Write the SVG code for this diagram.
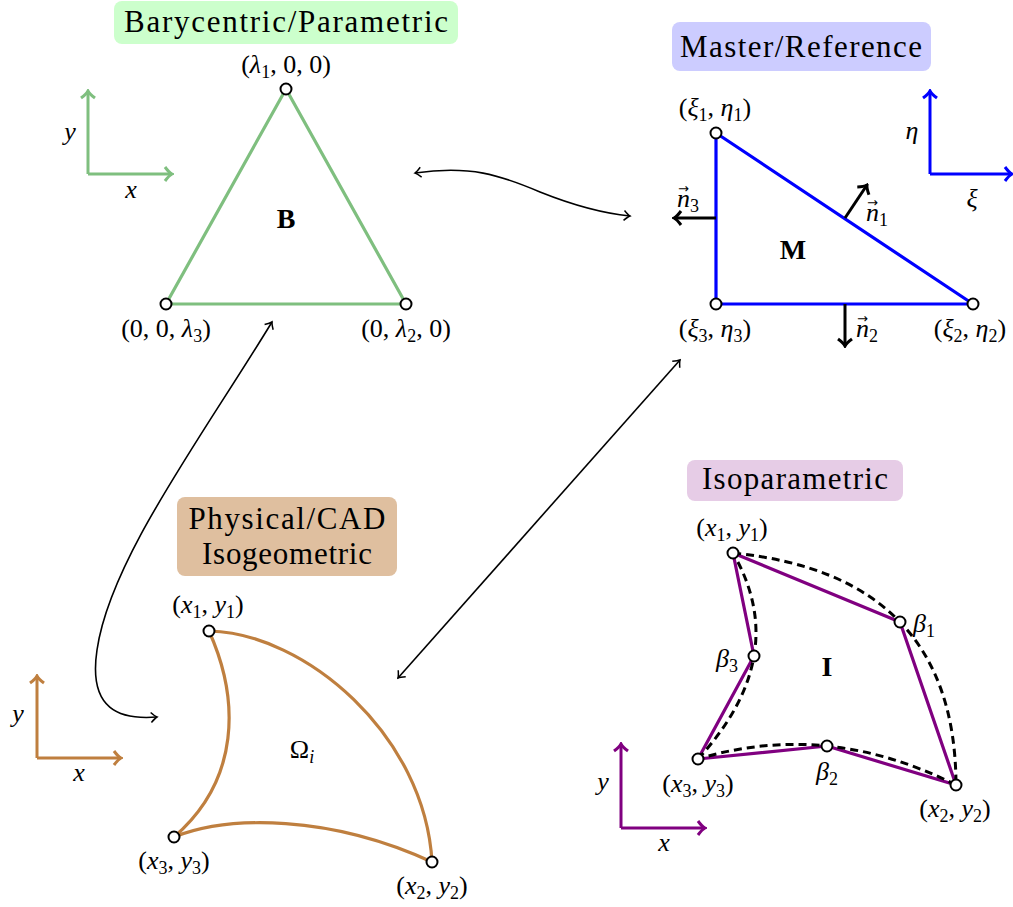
<svg xmlns="http://www.w3.org/2000/svg" width="1013" height="907" viewBox="0 0 1013 907">
<style>
.t{font-family:"Liberation Serif","DejaVu Serif",serif;font-size:26px;fill:#000}
.i{font-style:italic}
.ttl{font-size:31px}
.bf{font-weight:bold;font-size:28px}
.s{font-size:18px}
.acc{font-family:"DejaVu Sans",sans-serif;font-size:13px;font-style:normal}
.v{fill:#fff;stroke:#000;stroke-width:2}
.conn{fill:none;stroke:#000;stroke-width:1.6}
.dash{fill:none;stroke:#000;stroke-width:3;stroke-dasharray:8 5}
</style>
<defs>
<marker id="ah" viewBox="-8 -6 10 12" refX="0" refY="0" markerWidth="10" markerHeight="12" markerUnits="userSpaceOnUse" orient="auto-start-reverse"><path d="M-6,-5 Q-2,-1 0,0 Q-2,1 -6,5" fill="none" stroke="#000" stroke-width="1.5"/></marker>
<marker id="nk" viewBox="-10 -9 12 18" refX="0" refY="0" markerWidth="12" markerHeight="18" markerUnits="userSpaceOnUse" orient="auto"><path d="M-7,-7 Q-3,-1.5 0,0 Q-3,1.5 -7,7" fill="none" stroke="#000" stroke-width="3"/></marker>
<marker id="ag" viewBox="-10 -9 12 18" refX="0" refY="0" markerWidth="12" markerHeight="18" markerUnits="userSpaceOnUse" orient="auto"><path d="M-7,-7 Q-3,-1.5 0,0 Q-3,1.5 -7,7" fill="none" stroke="#7fbf7f" stroke-width="3"/></marker>
<marker id="ab" viewBox="-10 -9 12 18" refX="0" refY="0" markerWidth="12" markerHeight="18" markerUnits="userSpaceOnUse" orient="auto"><path d="M-7,-7 Q-3,-1.5 0,0 Q-3,1.5 -7,7" fill="none" stroke="#0000ff" stroke-width="3"/></marker>
<marker id="ac" viewBox="-10 -9 12 18" refX="0" refY="0" markerWidth="12" markerHeight="18" markerUnits="userSpaceOnUse" orient="auto"><path d="M-7,-7 Q-3,-1.5 0,0 Q-3,1.5 -7,7" fill="none" stroke="#bf7f3f" stroke-width="3"/></marker>
<marker id="ap" viewBox="-10 -9 12 18" refX="0" refY="0" markerWidth="12" markerHeight="18" markerUnits="userSpaceOnUse" orient="auto"><path d="M-7,-7 Q-3,-1.5 0,0 Q-3,1.5 -7,7" fill="none" stroke="#800080" stroke-width="3"/></marker>
</defs>

<!-- Barycentric -->
<g id="barycentric">
<rect x="114" y="1" width="344" height="43" rx="8" fill="#ccffcc"/>
<text class="t ttl" x="286" y="32" text-anchor="middle" textLength="324">Barycentric/Parametric</text>
<line x1="88" y1="174" x2="88" y2="91" stroke="#7fbf7f" stroke-width="3" marker-end="url(#ag)"/>
<line x1="88" y1="174" x2="172" y2="174" stroke="#7fbf7f" stroke-width="3" marker-end="url(#ag)"/>
<text class="t i" x="70" y="140" text-anchor="middle">y</text>
<text class="t i" x="131" y="198" text-anchor="middle">x</text>
<polygon points="286,89 406,304 166,304" fill="none" stroke="#7fbf7f" stroke-width="3.2" stroke-linejoin="round"/>
<circle class="v" cx="286" cy="89" r="5.5"/>
<circle class="v" cx="166" cy="304" r="5.5"/>
<circle class="v" cx="406" cy="304" r="5.5"/>
<text class="t bf" x="286" y="228" text-anchor="middle">B</text>
<text class="t" x="286" y="73" text-anchor="middle">(<tspan class="i">λ</tspan><tspan class="s" dy="5">1</tspan><tspan dy="-5">, 0, 0)</tspan></text>
<text class="t" x="166" y="337" text-anchor="middle">(0, 0, <tspan class="i">λ</tspan><tspan class="s" dy="5">3</tspan><tspan dy="-5">)</tspan></text>
<text class="t" x="406" y="337" text-anchor="middle">(0, <tspan class="i">λ</tspan><tspan class="s" dy="5">2</tspan><tspan dy="-5">, 0)</tspan></text>
</g>

<!-- Master -->
<g id="master">
<rect x="672" y="22" width="259" height="49" rx="8" fill="#ccccff"/>
<text class="t ttl" x="801" y="57" text-anchor="middle" textLength="242">Master/Reference</text>
<line x1="930" y1="174" x2="930" y2="91" stroke="#0000ff" stroke-width="3" marker-end="url(#ab)"/>
<line x1="930" y1="174" x2="1012" y2="174" stroke="#0000ff" stroke-width="3" marker-end="url(#ab)"/>
<text class="t i" x="912" y="139" text-anchor="middle">η</text>
<text class="t i" x="972" y="207" text-anchor="middle">ξ</text>
<polygon points="716,133 973,304 716,304" fill="none" stroke="#0000ff" stroke-width="3.2" stroke-linejoin="round"/>
<line x1="716" y1="218" x2="674" y2="218" stroke="#000" stroke-width="3" marker-end="url(#nk)"/>
<line x1="845" y1="218" x2="867" y2="185" stroke="#000" stroke-width="3" marker-end="url(#nk)"/>
<line x1="845" y1="304" x2="845" y2="346" stroke="#000" stroke-width="3" marker-end="url(#nk)"/>
<circle class="v" cx="716" cy="133" r="5.5"/>
<circle class="v" cx="716" cy="304" r="5.5"/>
<circle class="v" cx="973" cy="304" r="5.5"/>
<text class="t bf" x="793" y="259" text-anchor="middle">M</text>
<text class="t" x="688" y="207" text-anchor="middle"><tspan class="i">n</tspan><tspan class="acc" dx="-12" dy="-14">→</tspan><tspan class="s" dx="1" dy="19">3</tspan></text>
<text class="t" x="877" y="221" text-anchor="middle"><tspan class="i">n</tspan><tspan class="acc" dx="-12" dy="-14">→</tspan><tspan class="s" dx="1" dy="19">1</tspan></text>
<text class="t" x="867" y="337" text-anchor="middle"><tspan class="i">n</tspan><tspan class="acc" dx="-12" dy="-14">→</tspan><tspan class="s" dx="1" dy="19">2</tspan></text>
<text class="t" x="715" y="116" text-anchor="middle">(<tspan class="i">ξ</tspan><tspan class="s" dy="5">1</tspan><tspan dy="-5">, </tspan><tspan class="i">η</tspan><tspan class="s" dy="5">1</tspan><tspan dy="-5">)</tspan></text>
<text class="t" x="715" y="337" text-anchor="middle">(<tspan class="i">ξ</tspan><tspan class="s" dy="5">3</tspan><tspan dy="-5">, </tspan><tspan class="i">η</tspan><tspan class="s" dy="5">3</tspan><tspan dy="-5">)</tspan></text>
<text class="t" x="970" y="337" text-anchor="middle">(<tspan class="i">ξ</tspan><tspan class="s" dy="5">2</tspan><tspan dy="-5">, </tspan><tspan class="i">η</tspan><tspan class="s" dy="5">2</tspan><tspan dy="-5">)</tspan></text>
</g>

<!-- Physical -->
<g id="physical">
<rect x="177" y="497" width="220" height="79" rx="8" fill="#dfbf9f"/>
<text class="t ttl" x="287" y="529" text-anchor="middle" textLength="197">Physical/CAD</text>
<text class="t ttl" x="287" y="564" text-anchor="middle" textLength="170">Isogeometric</text>
<line x1="37" y1="758" x2="37" y2="676" stroke="#bf7f3f" stroke-width="3" marker-end="url(#ac)"/>
<line x1="37" y1="758" x2="121" y2="758" stroke="#bf7f3f" stroke-width="3" marker-end="url(#ac)"/>
<text class="t i" x="18" y="722" text-anchor="middle">y</text>
<text class="t i" x="79" y="781" text-anchor="middle">x</text>
<path d="M209,631 C305,633 425,735 432,862 M209,631 C240,700 240,780 174,837 M174,837 C230,815 330,815 432,862" fill="none" stroke="#bf7f3f" stroke-width="3.2"/>
<circle class="v" cx="209" cy="631" r="5.5"/>
<circle class="v" cx="174" cy="837" r="5.5"/>
<circle class="v" cx="432" cy="862" r="5.5"/>
<text class="t" x="302" y="758" text-anchor="middle">Ω<tspan class="s i" dy="5">i</tspan></text>
<text class="t" x="208" y="613" text-anchor="middle">(<tspan class="i">x</tspan><tspan class="s" dy="5">1</tspan><tspan dy="-5">, </tspan><tspan class="i">y</tspan><tspan class="s" dy="5">1</tspan><tspan dy="-5">)</tspan></text>
<text class="t" x="174" y="869" text-anchor="middle">(<tspan class="i">x</tspan><tspan class="s" dy="5">3</tspan><tspan dy="-5">, </tspan><tspan class="i">y</tspan><tspan class="s" dy="5">3</tspan><tspan dy="-5">)</tspan></text>
<text class="t" x="432" y="894" text-anchor="middle">(<tspan class="i">x</tspan><tspan class="s" dy="5">2</tspan><tspan dy="-5">, </tspan><tspan class="i">y</tspan><tspan class="s" dy="5">2</tspan><tspan dy="-5">)</tspan></text>
</g>

<!-- Isoparametric -->
<g id="isoparametric">
<rect x="687" y="460" width="216" height="41" rx="8" fill="#e6cce6"/>
<text class="t ttl" x="795" y="489" text-anchor="middle" textLength="186">Isoparametric</text>
<line x1="621" y1="828" x2="621" y2="744" stroke="#800080" stroke-width="3" marker-end="url(#ap)"/>
<line x1="621" y1="828" x2="705" y2="828" stroke="#800080" stroke-width="3" marker-end="url(#ap)"/>
<text class="t i" x="603" y="790" text-anchor="middle">y</text>
<text class="t i" x="664" y="851" text-anchor="middle">x</text>
<polygon points="733,553 900,622 956,785 827,746 698,759 754,656" fill="none" stroke="#800080" stroke-width="3.2" stroke-linejoin="round"/>
<path class="dash" d="M733,553 Q955.5,575 956,785 M956,785 Q827,720 698,759 M698,759 Q792.5,656 733,553"/>
<circle class="v" cx="733" cy="553" r="5.5"/>
<circle class="v" cx="900" cy="622" r="5.5"/>
<circle class="v" cx="956" cy="785" r="5.5"/>
<circle class="v" cx="827" cy="746" r="5.5"/>
<circle class="v" cx="698" cy="759" r="5.5"/>
<circle class="v" cx="754" cy="656" r="5.5"/>
<text class="t bf" x="827" y="676" text-anchor="middle">I</text>
<text class="t" x="924" y="632" text-anchor="middle"><tspan class="i">β</tspan><tspan class="s" dy="5">1</tspan></text>
<text class="t" x="827" y="780" text-anchor="middle"><tspan class="i">β</tspan><tspan class="s" dy="5">2</tspan></text>
<text class="t" x="727" y="667" text-anchor="middle"><tspan class="i">β</tspan><tspan class="s" dy="5">3</tspan></text>
<text class="t" x="732" y="536" text-anchor="middle">(<tspan class="i">x</tspan><tspan class="s" dy="5">1</tspan><tspan dy="-5">, </tspan><tspan class="i">y</tspan><tspan class="s" dy="5">1</tspan><tspan dy="-5">)</tspan></text>
<text class="t" x="698" y="792" text-anchor="middle">(<tspan class="i">x</tspan><tspan class="s" dy="5">3</tspan><tspan dy="-5">, </tspan><tspan class="i">y</tspan><tspan class="s" dy="5">3</tspan><tspan dy="-5">)</tspan></text>
<text class="t" x="955" y="817" text-anchor="middle">(<tspan class="i">x</tspan><tspan class="s" dy="5">2</tspan><tspan dy="-5">, </tspan><tspan class="i">y</tspan><tspan class="s" dy="5">2</tspan><tspan dy="-5">)</tspan></text>
</g>

<!-- Connectors -->
<g id="connectors">
<path class="conn" d="M415,173 C470,165 500,175 540,192 C580,208 610,214 630,216" marker-start="url(#ah)" marker-end="url(#ah)"/>
<path class="conn" d="M272,322 C200,440 110,560 97,650 C88,710 120,720 157,717" marker-start="url(#ah)" marker-end="url(#ah)"/>
<line class="conn" x1="680" y1="360" x2="398" y2="678" marker-start="url(#ah)" marker-end="url(#ah)"/>
</g>
</svg>
